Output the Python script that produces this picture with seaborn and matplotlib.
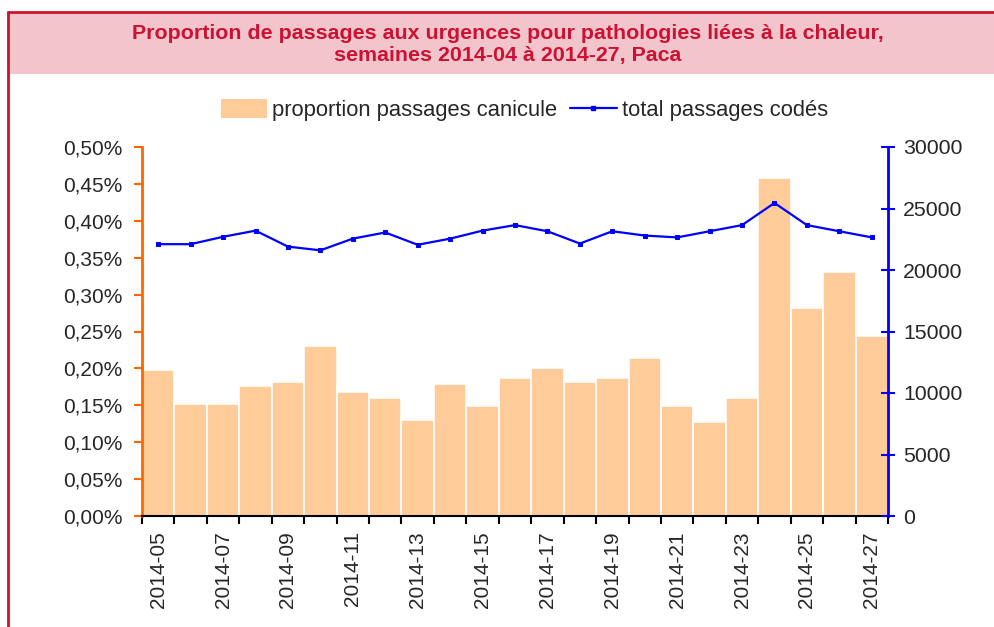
import numpy as np
import pandas as pd
import matplotlib
matplotlib.use("Agg")
import matplotlib.pyplot as plt
import seaborn as sns
from matplotlib.patches import Rectangle, Patch
from matplotlib.lines import Line2D
from matplotlib.ticker import FuncFormatter, MultipleLocator

# weekly data, Paca, 2014-05 .. 2014-27
semaines = [f"2014-{w:02d}" for w in range(5, 28)]
proportion_canicule = [0.198, 0.152, 0.152, 0.176, 0.181, 0.230, 0.168, 0.160,
                       0.130, 0.179, 0.149, 0.187, 0.200, 0.181, 0.187, 0.214,
                       0.149, 0.127, 0.160, 0.458, 0.282, 0.331, 0.244]
total_passages = [22100, 22100, 22700, 23200, 21900, 21600, 22550, 23050,
                  22050, 22550, 23200, 23650, 23150, 22150, 23150, 22800,
                  22650, 23150, 23650, 25450, 23650, 23150, 22650]
label_weeks = semaines[::2]

title = ("Proportion de passages aux urgences pour pathologies liées à la chaleur,\n"
         "semaines 2014-04 à 2014-27, Paca")

sns.set_style("white")
plt.rcParams["font.family"] = ["Liberation Sans", "DejaVu Sans"]

df = pd.DataFrame({"semaine": semaines,
                   "proportion": proportion_canicule,
                   "total": total_passages})
df["pos"] = np.arange(len(df))

fig = plt.figure(figsize=(9.95, 6.27), dpi=100)
ax = fig.add_axes([142 / 995, 1 - 516 / 627, (888 - 142) / 995, (516 - 147) / 627])

sns.barplot(data=df, x="semaine", y="proportion", color="#FFCC99", saturation=1,
            width=1.0, edgecolor="white", linewidth=1.2, ax=ax)
ax.set_xlim(-0.5, len(df) - 0.5)
ax.set_ylim(0, 0.5)
ax.yaxis.set_major_locator(MultipleLocator(0.05))
ax.yaxis.set_major_formatter(FuncFormatter(lambda v, p: f"{v:.2f}%".replace(".", ",")))
ax.set_xlabel("")
ax.set_ylabel("")

# ticks at bar boundaries, labels under every other bar
ax.set_xticks(np.arange(len(df) + 1) - 0.5)
ax.set_xticklabels([])
ax.tick_params(axis="x", which="major", direction="out", length=6, width=1.5,
               color="black", bottom=True)
ax.set_xticks(df["pos"][::2], minor=True)
ax.set_xticklabels(label_weeks, minor=True, rotation=90, fontsize=15)
ax.tick_params(axis="x", which="minor", length=0, pad=11)
ax.tick_params(axis="y", direction="out", length=6, width=1.5, color="#FF6600",
               labelsize=15, pad=8, left=True)

for s in ["top", "right"]:
    ax.spines[s].set_visible(False)
ax.spines["left"].set_color("#FF6600")
ax.spines["left"].set_linewidth(2)
ax.spines["bottom"].set_color("black")
ax.spines["bottom"].set_linewidth(1.5)

ax2 = ax.twinx()
sns.lineplot(data=df, x="pos", y="total", color="#0000FF", linewidth=1.6,
             marker="s", markersize=3, markeredgecolor="#0000FF", ax=ax2)
ax2.set_xlim(-0.5, len(df) - 0.5)
ax2.set_ylim(0, 30000)
ax2.yaxis.set_major_locator(MultipleLocator(5000))
ax2.set_xlabel("")
ax2.set_ylabel("")
ax2.tick_params(axis="y", direction="inout", length=10, width=1.5, color="#0000FF",
                labelsize=15.3, pad=6, right=True)
for s in ["top", "left", "bottom"]:
    ax2.spines[s].set_visible(False)
ax2.spines["right"].set_color("#0000FF")
ax2.spines["right"].set_linewidth(2)

# title band with red border
fig.add_artist(Rectangle((8 / 995, 1 - 74 / 627), 1 - 8 / 995, 62 / 627,
                         transform=fig.transFigure, facecolor="#F2C5CC",
                         edgecolor="none", zorder=0))
fig.add_artist(Line2D([8 / 995, 1], [1 - 12 / 627, 1 - 12 / 627],
                      transform=fig.transFigure, color="#D0102C", lw=2))
fig.add_artist(Line2D([8 / 995, 8 / 995], [0, 1 - 12 / 627],
                      transform=fig.transFigure, color="#D0102C", lw=2))
fig.text(0.51, 1 - 44.5 / 627, title, ha="center", va="center", fontsize=15.4,
         fontweight="bold", color="#CC1133", linespacing=1.15)

handles = [Patch(facecolor="#FFCC99", edgecolor="none"),
           Line2D([], [], color="#0000FF", lw=1.6, marker="s", markersize=3)]
fig.legend(handles, ["proportion passages canicule", "total passages codés"],
           loc="center", bbox_to_anchor=(0.527, 1 - 110 / 627), ncol=2,
           frameon=False, fontsize=15.8, handlelength=2.1, handletextpad=0.25,
           columnspacing=0.6, handleheight=1.0)

fig.savefig("out.png", dpi=100)
